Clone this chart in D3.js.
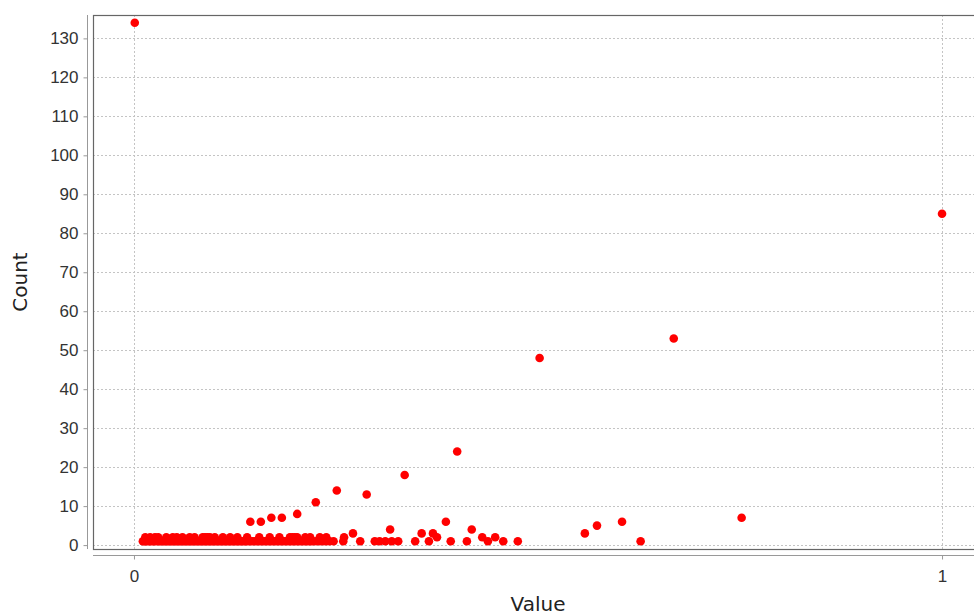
<!DOCTYPE html>
<html>
<head>
<meta charset="utf-8">
<script src="https://cdn.jsdelivr.net/npm/d3@7"></script>
<style>
  body { margin: 0; background: #fff; }
  svg { display: block; font-family: "DejaVu Sans", sans-serif; }
</style>
</head>
<body>
<div id="chart"></div>
<script>
// values (Value, Count)
const values = [
  0.001, 1.000, 0.502, 0.668, 0.752, 0.400, 0.335, 0.288, 0.251, 0.225,
  0.202, 0.183, 0.170, 0.157, 0.144, 0.386, 0.418, 0.317, 0.271, 0.356,
  0.370, 0.375, 0.431, 0.447, 0.558, 0.573, 0.604, 0.627, 0.260,
  // scattered ones
  0.259, 0.280, 0.298, 0.304, 0.311, 0.319, 0.327, 0.348, 0.365, 0.392,
  0.412, 0.438, 0.457, 0.475,
  // dense cluster near zero
  0.011, 0.013, 0.015, 0.018, 0.020, 0.023, 0.025, 0.028, 0.031, 0.033,
  0.036, 0.038, 0.041, 0.043, 0.046, 0.048, 0.051, 0.053, 0.056, 0.058,
  0.061, 0.063, 0.066, 0.068, 0.071, 0.073, 0.076, 0.078, 0.081, 0.083,
  0.086, 0.088, 0.091, 0.093, 0.096, 0.098, 0.101, 0.103, 0.106, 0.108,
  0.111, 0.113, 0.116, 0.118, 0.121, 0.123, 0.126, 0.128, 0.131, 0.133,
  0.136, 0.138, 0.141, 0.144, 0.147, 0.150, 0.153, 0.156, 0.159, 0.162,
  0.165, 0.168, 0.171, 0.174, 0.177, 0.180, 0.183, 0.186, 0.189, 0.192,
  0.195, 0.198, 0.201, 0.204, 0.207, 0.210, 0.213, 0.216, 0.219, 0.222,
  0.226, 0.230, 0.234, 0.238, 0.242, 0.247,
  // second layer of the cluster
  0.014, 0.020, 0.026, 0.030, 0.040, 0.048, 0.053, 0.060, 0.069, 0.075,
  0.085, 0.088, 0.091, 0.094, 0.100, 0.110, 0.119, 0.128, 0.140, 0.155,
  0.168, 0.180, 0.193, 0.196, 0.199, 0.202, 0.212, 0.218, 0.230, 0.238
];
const counts = [
  134, 85, 48, 53, 7, 24, 18, 13, 14, 11,
  8, 7, 7, 6, 6, 6, 4, 4, 3, 3,
  3, 2, 2, 2, 3, 5, 6, 1, 2,
  1, 1, 1, 1, 1, 1, 1, 1, 1, 1,
  1, 1, 1, 1,
  1, 1, 1, 1, 1, 1, 1, 1, 1, 1,
  1, 1, 1, 1, 1, 1, 1, 1, 1, 1,
  1, 1, 1, 1, 1, 1, 1, 1, 1, 1,
  1, 1, 1, 1, 1, 1, 1, 1, 1, 1,
  1, 1, 1, 1, 1, 1, 1, 1, 1, 1,
  1, 1, 1, 1, 1, 1, 1, 1, 1, 1,
  1, 1, 1, 1, 1, 1, 1, 1, 1, 1,
  1, 1, 1, 1, 1, 1, 1, 1, 1, 1,
  1, 1, 1, 1, 1, 1,
  2, 2, 2, 2, 2, 2, 2, 2, 2, 2,
  2, 2, 2, 2, 2, 2, 2, 2, 2, 2,
  2, 2, 2, 2, 2, 2, 2, 2, 2, 2
];
const xTicks = [0, 1];
const yTicks = [0, 10, 20, 30, 40, 50, 60, 70, 80, 90, 100, 110, 120, 130];
const xTitle = "Value";
const yTitle = "Count";

const width = 974;
const height = 616;
const plot = { left: 93, top: 15, right: 983, bottom: 549 };

const svg = d3.select("#chart")
  .append("svg")
  .attr("width", width)
  .attr("height", height);

const xScale = d3.scaleLinear().domain([-0.0507, 1.0507]).range([plot.left, plot.right]);
const yScale = d3.scaleLinear().domain([-1.0, 136.0]).range([plot.bottom, plot.top]);

// Grid lines
const grid = svg.append("g")
  .attr("stroke", "#c4c4c4")
  .attr("stroke-width", 1)
  .attr("stroke-dasharray", "2,2");

grid.selectAll(".hgrid")
  .data(yTicks)
  .join("line")
  .attr("x1", plot.left)
  .attr("x2", plot.right)
  .attr("y1", (d) => Math.round(yScale(d)) + 0.5)
  .attr("y2", (d) => Math.round(yScale(d)) + 0.5);

grid.selectAll(".vgrid")
  .data(xTicks)
  .join("line")
  .attr("y1", plot.top)
  .attr("y2", plot.bottom)
  .attr("x1", (d) => Math.round(xScale(d)) + 0.5)
  .attr("x2", (d) => Math.round(xScale(d)) + 0.5);

// Points
svg.append("g")
  .selectAll("circle")
  .data(values.map((v, i) => ({ v, c: counts[i] })))
  .join("circle")
  .attr("cx", (d) => xScale(d.v))
  .attr("cy", (d) => yScale(d.c))
  .attr("r", 4.3)
  .attr("fill", "#ff0000");

// Plot border
svg.append("rect")
  .attr("x", plot.left + 0.5)
  .attr("y", plot.top + 0.5)
  .attr("width", plot.right - plot.left)
  .attr("height", plot.bottom - plot.top)
  .attr("fill", "none")
  .attr("stroke", "#666")
  .attr("stroke-width", 1.2);

// Axes
const yAxis = d3.axisLeft(yScale).tickValues(yTicks).tickSize(4).tickPadding(5);
const yG = svg.append("g")
  .attr("transform", "translate(87.5,0)")
  .call(yAxis);
yG.select(".domain").attr("stroke", "#999").attr("d", `M0,${plot.top}V${plot.bottom}`);
yG.selectAll(".tick line").attr("stroke", "#999");
yG.selectAll(".tick text").attr("fill", "#333").style("font-size", "17px");

const xAxis = d3.axisBottom(xScale).tickValues(xTicks).tickSize(4).tickPadding(10)
  .tickFormat(d3.format("d"));
const xG = svg.append("g")
  .attr("transform", "translate(0,555.5)")
  .call(xAxis);
xG.select(".domain").attr("stroke", "#999").attr("d", `M${plot.left},0H${width}`);
xG.selectAll(".tick line").attr("stroke", "#999");
xG.selectAll(".tick text").attr("fill", "#333").style("font-size", "17px");

// Axis titles
svg.append("text")
  .attr("x", 538)
  .attr("y", 611)
  .attr("text-anchor", "middle")
  .attr("fill", "#222")
  .style("font-size", "20px")
  .text(xTitle);

svg.append("text")
  .attr("transform", "translate(27,282) rotate(-90)")
  .attr("text-anchor", "middle")
  .attr("fill", "#222")
  .style("font-size", "20px")
  .text(yTitle);
</script>
</body>
</html>
